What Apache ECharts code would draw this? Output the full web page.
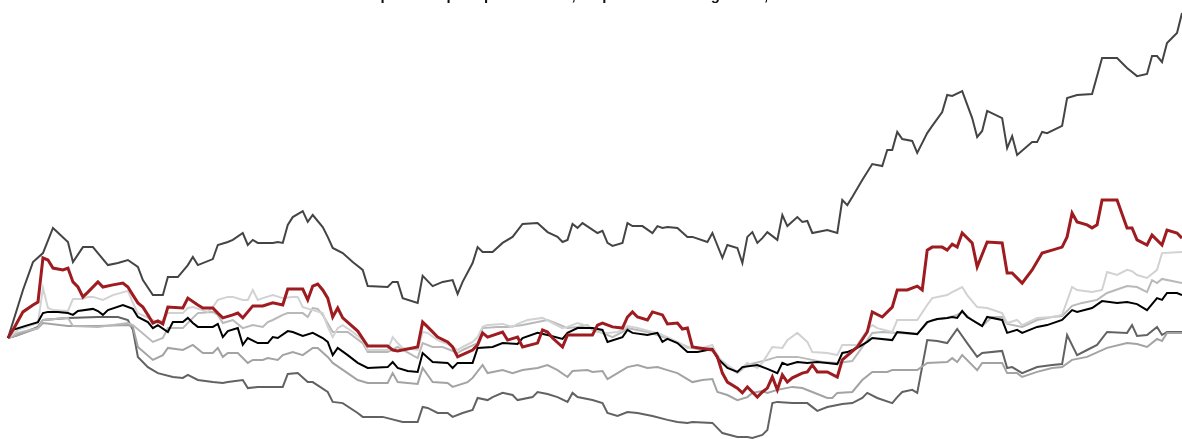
<!DOCTYPE html>
<html>
<head>
<meta charset="utf-8">
<script src="https://cdn.jsdelivr.net/npm/echarts@6/dist/echarts.min.js"></script>
<style>
html,body{margin:0;padding:0;background:#fff;}
#chart{width:1182px;height:439px;}
</style>
</head>
<body>
<div id="chart"></div>
<script>
// Cumulative return (%) by trading day; each pair is [day, value]
const titleText = "Rentabilidad acumulada del fondo frente a sus comparables por tipo de activo, respecto al índice general, desde el inicio del año.";

const fundTop = [[0,0],[3,16.0],[5,25.3],[7,28.3],[9,36.7],[12,32.0],[13,25.3],[15,30.3],[17,30.3],[18,28.3],[20,24.3],[22,25.0],[24,26.0],[26,23.7],[27,19.3],[29,14.3],[31,14.3],[32,20.3],[34,20.3],[36,24.3],[37,27.0],[38,24.3],[41,26.3],[42,31.0],[44,32.0],[45,32.7],[47,35.0],[48,31.0],[49,32.7],[50,31.7],[53,31.7],[54,32.0],[55,31.7],[56,37.7],[57,40.3],[59,42.3],[60,38.7],[61,41.0],[63,37.0],[64,33.7],[65,30.0],[67,28.3],[69,25.3],[71,22.7],[72,17.3],[76,17.0],[77,18.7],[78,18.7],[79,13.3],[82,11.7],[83,20.7],[85,17.3],[87,18.7],[89,19.3],[90,14.7],[91,18.7],[93,25.0],[94,30.3],[95,28.7],[97,28.7],[99,31.7],[101,33.7],[103,38.0],[106,38.3],[108,35.3],[110,33.7],[111,32.0],[112,32.7],[113,38.0],[114,36.7],[115,38.3],[118,35.0],[119,35.7],[120,31.7],[121,30.7],[123,31.7],[124,38.3],[125,37.3],[127,37.3],[129,35.0],[130,37.3],[131,36.7],[132,37.0],[134,36.7],[136,33.7],[137,33.7],[140,32.0],[141,35.0],[143,26.7],[144,31.0],[146,30.0],[147,25.0],[148,33.7],[149,35.3],[150,31.7],[151,33.3],[152,35.3],[154,32.7],[155,41.0],[156,37.3],[158,40.3],[159,38.7],[160,39.0],[161,35.0],[164,36.0],[166,35.0],[167,46.0],[168,44.3],[169,47.0],[171,52.7],[173,58.0],[175,57.3],[176,62.7],[177,62.7],[178,68.7],[179,66.3],[181,65.7],[182,61.7],[184,68.3],[185,70.7],[187,75.3],[188,81.0],[189,80.7],[191,82.3],[193,73.3],[194,67.0],[195,69.0],[196,75.7],[199,73.3],[200,63.3],[201,67.3],[202,61.0],[205,65.3],[206,65.3],[207,68.7],[208,68.3],[211,70.7],[212,80.0],[214,81.0],[217,81.3],[219,93.3],[222,93.3],[224,90.0],[226,87.3],[228,88.0],[229,94.0],[230,94.0],[231,92.0],[232,98.3],[234,101.7],[235,108.3]];

const fundRed = [[0,0],[1,2.7],[3,8.7],[5,11.0],[6,12.0],[7,26.7],[8,26.0],[9,23.3],[11,22.7],[12,23.3],[13,18.7],[14,17.0],[15,13.7],[16,15.3],[18,18.7],[19,17.0],[21,17.7],[23,18.3],[24,17.0],[25,14.3],[26,11.7],[27,10.3],[28,7.7],[29,5.0],[30,5.7],[31,4.7],[32,10.3],[35,10.0],[36,13.3],[38,11.0],[39,10.0],[41,10.0],[42,8.3],[43,6.7],[45,7.7],[46,8.3],[47,6.7],[49,10.7],[51,10.7],[53,11.7],[55,11.0],[56,16.3],[59,16.3],[60,12.7],[61,17.3],[62,18.0],[63,16.0],[64,13.3],[65,7.0],[66,10.0],[67,6.7],[70,2.3],[72,-2.7],[76,-2.7],[77,-4.0],[78,-4.3],[82,-3.0],[83,5.3],[84,3.7],[86,0.3],[88,-1.3],[89,-3.0],[90,-6.3],[93,-4.0],[94,-2.3],[95,1.7],[96,0.3],[99,2.0],[100,-0.7],[102,0.3],[103,-3.0],[106,-1.7],[107,2.7],[108,2.0],[109,0],[111,-3.0],[112,1.0],[117,1.0],[118,4.3],[119,5.0],[121,3.7],[123,3.3],[124,7.0],[125,8.7],[126,7.0],[128,6.0],[129,8.7],[131,7.7],[132,4.7],[134,5.0],[135,3.0],[136,3.3],[137,-3.0],[141,-4.0],[142,-6.3],[143,-11.7],[144,-14.7],[146,-16.7],[147,-18.3],[148,-16.3],[150,-19.7],[151,-18.0],[152,-16.7],[153,-13.0],[154,-17.3],[155,-12.3],[156,-14.7],[157,-13.3],[159,-11.7],[160,-11.3],[161,-9.0],[162,-11.3],[164,-11.3],[166,-13.0],[167,-7.3],[170,-3.0],[172,2.0],[173,8.7],[175,7.0],[177,10.3],[178,16.0],[180,16.0],[182,17.3],[183,16.0],[184,29.3],[185,30.3],[187,30.3],[188,29.3],[189,31.3],[190,30.3],[191,35.0],[193,31.7],[194,23.7],[196,32.0],[199,31.7],[200,21.7],[201,21.7],[203,18.3],[205,22.7],[207,28.3],[209,29.3],[211,30.3],[212,33.7],[213,41.7],[214,38.7],[216,37.7],[217,36.7],[218,37.7],[219,46.0],[222,46.0],[224,36.7],[225,36.7],[226,32.7],[228,31.0],[229,34.3],[231,31.0],[232,36.0],[234,35.0],[235,33.3]];

const fundLight = [[0,0],[2,2.7],[6,5.0],[7,16.7],[8,10.0],[9,9.3],[12,9.0],[13,13.0],[15,13.0],[16,13.7],[17,13.7],[19,12.7],[21,14.3],[24,15.7],[25,11.7],[26,8.3],[29,6.0],[30,5.0],[31,6.0],[32,8.3],[35,8.3],[36,10.0],[37,10.3],[40,8.7],[41,10.3],[42,12.7],[44,13.7],[45,13.7],[47,12.7],[48,12.7],[49,16.0],[50,12.7],[51,13.3],[53,14.3],[55,13.3],[57,13.7],[58,13.7],[59,10.3],[61,9.3],[63,8.3],[64,3.7],[65,0.3],[66,3.3],[67,4.3],[69,2.0],[71,-0.7],[72,-4.0],[76,-4.0],[77,0.3],[78,-1.7],[79,-3.3],[82,-4.0],[83,2.0],[84,1.7],[86,-0.7],[88,-2.0],[90,-4.0],[91,-3.0],[93,-1.3],[94,0.3],[95,3.7],[96,4.3],[99,4.7],[101,3.7],[102,4.7],[104,6.0],[107,6.7],[109,5.0],[111,3.3],[112,3.7],[114,5.0],[116,4.0],[117,3.3],[118,2.0],[120,1.7],[122,2.0],[123,2.7],[124,4.0],[126,3.3],[129,2.0],[130,1.7],[132,0.3],[134,-1.3],[136,-3.3],[139,-3.3],[141,-2.3],[142,-6.3],[144,-9.0],[146,-11.3],[148,-8.3],[150,-10.0],[151,-8.3],[153,-3.0],[155,-3.3],[156,-0.7],[158,1.7],[160,-1.3],[161,-4.7],[164,-5.0],[166,-5.7],[167,-2.3],[170,-2.3],[172,2.7],[173,4.3],[174,3.3],[177,2.0],[178,6.0],[182,6.0],[184,11.0],[185,13.3],[188,14.3],[189,15.3],[191,17.0],[192,14.3],[194,10.3],[196,10.0],[199,8.3],[200,5.0],[202,6.0],[203,4.3],[206,6.7],[209,7.0],[211,7.7],[213,17.0],[214,16.0],[217,15.3],[219,16.0],[220,22.0],[222,21.0],[224,22.7],[225,22.3],[226,21.0],[228,20.0],[230,22.7],[231,28.3],[235,28.7]];

const fundSilver = [[0,0],[2,1.7],[6,3.3],[7,6.0],[12,6.7],[13,4.0],[18,3.7],[24,5.0],[25,4.3],[29,-1.3],[31,0],[32,3.3],[35,3.3],[37,6.7],[38,8.3],[41,8.7],[42,7.7],[43,5.0],[45,6.0],[47,3.3],[49,4.3],[51,3.7],[52,5.3],[53,6.0],[55,7.7],[56,8.3],[59,8.3],[60,7.0],[61,10.0],[62,9.7],[63,7.7],[65,2.0],[68,2.0],[71,-1.7],[72,-4.7],[76,-4.7],[78,-3.0],[82,-6.7],[83,-1.7],[85,-3.0],[87,-3.0],[90,-5.0],[91,-4.0],[94,-1.7],[95,3.3],[98,3.7],[100,3.7],[103,4.3],[106,5.3],[108,6.0],[110,4.7],[112,3.3],[114,3.7],[116,4.3],[117,2.7],[119,1.7],[121,0.3],[123,2.0],[124,3.3],[128,2.0],[130,1.0],[133,-0.7],[136,-3.0],[138,-3.7],[141,-3.3],[143,-8.3],[146,-11.7],[148,-9.0],[152,-7.3],[154,-6.3],[158,-6.3],[161,-7.3],[163,-8.0],[166,-8.3],[169,-7.7],[172,-0.7],[173,1.7],[175,2.0],[178,1.7],[182,1.3],[184,5.0],[185,6.0],[188,6.7],[190,7.7],[191,8.7],[193,6.0],[195,4.0],[197,7.0],[199,7.0],[200,4.7],[203,3.7],[206,6.0],[209,7.0],[211,7.3],[213,10.7],[215,11.7],[218,12.7],[220,15.0],[224,17.3],[226,17.0],[228,15.3],[229,19.3],[230,18.3],[231,19.7],[235,18.3]];

const fundBlack = [[0,0],[1,2.7],[4,4.3],[6,5.3],[7,8.3],[8,8.7],[10,8.7],[12,8.3],[13,7.7],[14,9.0],[17,9.7],[18,9.0],[19,7.7],[20,9.3],[23,11.0],[25,9.7],[26,7.0],[28,5.3],[29,3.3],[30,4.3],[32,2.0],[33,5.3],[35,5.3],[36,6.7],[37,5.0],[38,3.7],[41,3.7],[42,4.7],[43,0.3],[44,2.3],[46,3.3],[47,-2.3],[48,0],[50,-1.7],[52,-1.7],[53,0.3],[54,0],[56,2.3],[57,2.0],[59,0.7],[61,1.7],[63,0],[64,-1.3],[65,-5.7],[66,-3.3],[68,-5.7],[70,-8.3],[72,-10.0],[76,-9.7],[77,-8.0],[78,-10.0],[80,-11.0],[82,-11.3],[83,-5.0],[85,-8.0],[88,-8.3],[89,-10.0],[90,-8.3],[93,-8.3],[94,-3.3],[97,-3.0],[99,-1.7],[102,-2.0],[103,0],[106,1.7],[108,1.0],[111,-0.3],[112,1.7],[114,3.3],[117,3.3],[119,2.7],[120,-1.3],[123,0.3],[124,2.7],[125,1.7],[128,1.0],[130,1.7],[131,-1.3],[132,-0.3],[134,-1.7],[136,-4.7],[138,-4.7],[141,-3.7],[142,-6.7],[144,-10.0],[146,-11.3],[147,-9.7],[150,-9.0],[152,-10.3],[154,-11.7],[155,-8.3],[156,-9.0],[158,-8.0],[160,-8.3],[162,-8.0],[164,-8.3],[166,-8.7],[167,-5.0],[168,-4.7],[170,-3.3],[172,-1.3],[173,0],[177,-0.7],[178,2.0],[182,1.3],[184,5.3],[186,6.3],[188,6.7],[189,7.0],[190,6.7],[191,9.0],[192,7.0],[195,4.0],[196,7.0],[199,6.0],[200,1.7],[202,2.7],[203,1.7],[206,3.7],[208,4.3],[211,6.0],[213,9.3],[214,8.7],[217,10.0],[219,12.3],[222,11.7],[224,12.0],[226,11.3],[228,9.3],[230,13.3],[231,12.7],[232,15.0],[234,15.0],[235,14.3]];

const fundGray = [[0,0],[2,1.0],[6,3.3],[7,5.0],[12,4.0],[18,4.0],[24,4.3],[25,3.7],[26,-3.0],[29,-7.3],[31,-5.7],[32,-3.3],[35,-4.0],[37,-2.3],[39,-5.0],[41,-5.0],[42,-3.3],[43,-6.3],[44,-5.0],[46,-5.0],[48,-8.3],[49,-7.3],[51,-7.3],[52,-6.7],[54,-7.3],[55,-5.7],[57,-4.7],[59,-5.7],[61,-3.3],[62,-3.3],[64,-6.3],[65,-8.3],[70,-14.0],[72,-15.0],[76,-15.0],[77,-11.7],[78,-14.7],[82,-15.3],[83,-10.0],[85,-14.7],[88,-15.0],[89,-16.3],[92,-14.7],[93,-13.3],[95,-9.0],[96,-11.7],[99,-10.7],[101,-11.7],[103,-10.7],[106,-10.0],[108,-9.0],[110,-10.7],[112,-13.0],[113,-11.0],[116,-10.7],[117,-11.3],[119,-11.0],[120,-13.7],[122,-11.7],[124,-9.7],[126,-9.0],[128,-10.0],[130,-9.7],[132,-10.7],[134,-11.7],[137,-14.7],[139,-14.0],[141,-13.7],[142,-18.0],[144,-19.0],[146,-20.7],[148,-19.7],[149,-18.3],[151,-17.7],[152,-18.3],[154,-17.3],[157,-16.3],[159,-16.7],[161,-18.0],[164,-20.0],[165,-20.0],[166,-18.3],[169,-18.0],[171,-14.0],[173,-11.3],[176,-11.3],[177,-10.7],[182,-10.7],[184,-8.3],[188,-8.0],[189,-6.7],[190,-8.0],[191,-5.7],[194,-10.7],[195,-8.3],[199,-8.3],[200,-11.7],[202,-11.7],[203,-13.0],[206,-11.3],[209,-10.0],[211,-9.7],[213,-7.3],[216,-6.3],[220,-3.3],[224,-1.7],[226,-2.0],[228,-3.0],[230,-0.3],[231,-1.0],[232,1.7],[235,1.7]];

const fundDark = [[0,0],[2,1.0],[6,3.7],[7,6.0],[12,6.7],[18,7.0],[22,7.0],[24,6.0],[25,2.7],[26,-6.3],[28,-9.7],[30,-11.7],[33,-13.0],[35,-13.3],[36,-12.3],[38,-14.0],[41,-14.7],[43,-15.0],[44,-14.7],[47,-14.0],[48,-16.7],[50,-16.3],[53,-16.3],[55,-16.3],[56,-12.0],[58,-11.7],[60,-14.7],[61,-14.7],[64,-18.0],[65,-21.3],[67,-21.7],[70,-25.0],[71,-26.3],[75,-26.3],[79,-28.0],[82,-28.0],[83,-23.0],[84,-23.3],[86,-25.0],[88,-25.0],[89,-26.3],[91,-25.0],[93,-24.0],[94,-20.0],[96,-20.7],[97,-19.7],[99,-18.3],[101,-19.0],[102,-20.7],[105,-19.7],[106,-18.0],[108,-18.7],[110,-19.7],[112,-21.3],[113,-18.3],[114,-19.7],[117,-20.7],[119,-21.7],[120,-25.0],[122,-26.0],[124,-24.7],[126,-25.0],[129,-26.0],[132,-27.3],[134,-28.0],[136,-28.3],[137,-28.0],[141,-28.3],[143,-31.7],[146,-33.0],[148,-33.0],[149,-33.3],[151,-32.3],[152,-30.7],[153,-21.7],[154,-21.3],[157,-21.7],[160,-21.7],[162,-24.3],[164,-23.0],[167,-22.0],[169,-21.7],[171,-20.0],[172,-18.3],[174,-20.0],[177,-21.7],[178,-19.7],[179,-18.0],[181,-17.3],[182,-18.3],[184,-0.7],[186,-1.0],[188,-1.7],[190,3.0],[192,-1.7],[194,-6.3],[195,-5.0],[199,-4.3],[200,-10.0],[201,-9.7],[203,-11.7],[206,-9.7],[209,-9.0],[211,-8.7],[212,1.0],[214,-5.7],[216,-4.0],[218,-2.3],[220,2.0],[224,1.7],[225,4.3],[226,0.7],[228,1.0],[230,3.7],[231,1.0],[232,2.0],[235,2.0]];

const chart = echarts.init(document.getElementById('chart'), null, {renderer: 'canvas'});

function line(name, data, color, width, z) {
  return {
    name: name, type: 'line', data: data, symbol: 'none', z: z,
    lineStyle: {color: color, width: width, join: 'miter'},
    emphasis: {disabled: true}
  };
}

chart.setOption({
  animation: false,
  backgroundColor: '#ffffff',
  title: {
    text: titleText,
    left: 8, top: -17,
    textStyle: {fontFamily: 'Liberation Sans, Arial, sans-serif', fontSize: 15, fontWeight: 'bold', color: '#111'}
  },
  grid: {left: 8, right: 0, top: 0, bottom: 0, containLabel: false},
  xAxis: {type: 'value', min: 0, max: 235, show: false},
  yAxis: {type: 'value', min: -33.67, max: 112.67, show: false},
  series: [
    line('Dark', fundDark, '#626262', 2, 2),
    line('Gray', fundGray, '#a3a3a3', 2, 2),
    line('Silver', fundSilver, '#b9b9b9', 2, 2),
    line('Light', fundLight, '#d2d2d2', 2, 2),
    line('Top', fundTop, '#444444', 2, 3),
    line('Black', fundBlack, '#000000', 2, 4),
    line('Red', fundRed, '#9e1b20', 3, 5)
  ]
});
</script>
</body>
</html>
